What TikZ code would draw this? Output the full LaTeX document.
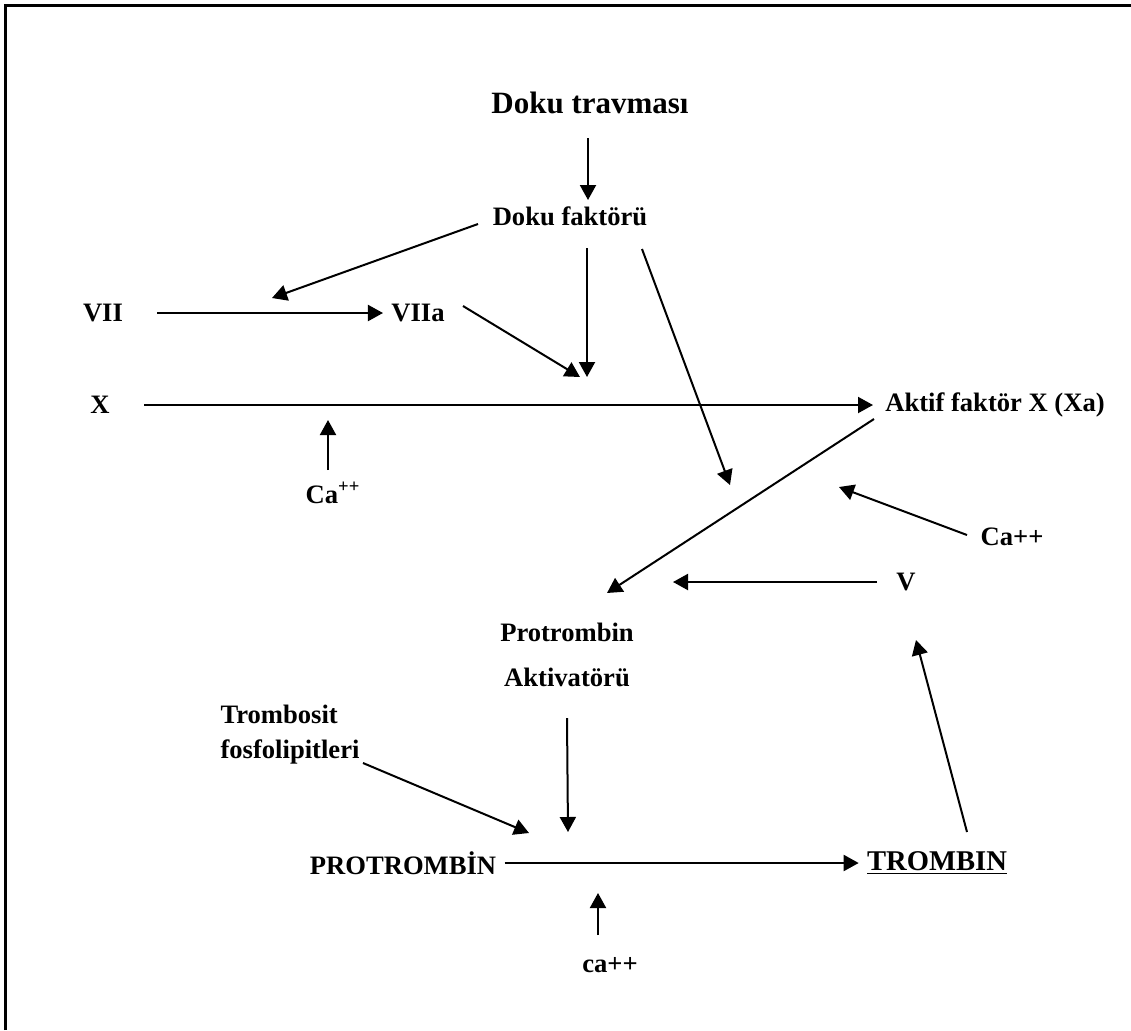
\documentclass[tikz,border=0pt]{standalone}
\usepackage{fontspec}
\setmainfont{Liberation Serif}
\usetikzlibrary{arrows.meta}

\begin{document}
\begin{tikzpicture}[
    x=0.5pt, y=-0.5pt,
    term/.style={font=\bfseries\fontsize{13.3}{16}\selectfont, inner sep=0pt},
    headline/.style={font=\bfseries\fontsize{15.5}{18}\selectfont, inner sep=0pt},
    arrow/.style={line width=1pt, -{Triangle[length=7.5pt, width=8pt]}},
    pageframe/.style={line width=1.5pt}
]
\useasboundingbox (0,0) rectangle (1131,1030);
\draw [pageframe] (5,1030) -- (5,5) -- (1131,5);

% Nodes
\node (travma) [headline] at (590,103) {Doku travması};
\node (faktor) [term] at (570,216) {Doku faktörü};
\node (vii) [term] at (103,313) {VII};
\node (viia) [term] at (418,313) {VIIa};
\node (x) [term] at (100,405) {X};
\node (xa) [term] at (995,405) {Aktif faktör X (Xa)};
\node (ca1) [term] at (333,493) {Ca\textsuperscript{++}};
\node (ca2) [term] at (1012,537) {Ca++};
\node (v) [term] at (906,582) {V};
\node (pa) [term, align=center, font=\bfseries\fontsize{13.3}{22.5}\selectfont] at (567,655) {Protrombin\\Aktivatörü};
\node (tromb) [term, align=left, font=\bfseries\fontsize{13.3}{17.5}\selectfont] at (290,735) {Trombosit\\fosfolipitleri};
\node (protr) [term] at (403,863) {PROTROMBİN};
\node (trombin) [term, font=\bfseries\fontsize{14.3}{17}\selectfont] at (937,863) {\underline{TROMBIN}};
\node (ca3) [term] at (610,965) {ca++};

% Arrow ends
\coordinate (travma-out) at (588,138);
\coordinate (faktor-in) at (588,200);
\coordinate (faktor-w) at (478,224);
\coordinate (faktor-s) at (587,248);
\coordinate (faktor-se) at (642,249);
\coordinate (on-vii) at (272,298);
\coordinate (on-x) at (587,377);
\coordinate (viia-in-x) at (580,377);
\coordinate (xa-in) at (873,405);
\coordinate (viia-out) at (463,306);
\coordinate (ca1-out) at (328,470);
\coordinate (ca1-in) at (328,420);
\coordinate (xa-out) at (874,419);
\coordinate (pa-in) at (607,593);
\coordinate (to-pa) at (730,485);
\coordinate (ca2-out) at (967,535);
\coordinate (ca2-in) at (839,487);
\coordinate (v-out) at (877,582);
\coordinate (v-in) at (673,582);
\coordinate (pa-out) at (567,718);
\coordinate (pa-down) at (568,832);
\coordinate (tromb-out) at (363,763);
\coordinate (tromb-in) at (529,833);
\coordinate (ca3-out) at (598,935);
\coordinate (ca3-in) at (598,893);
\coordinate (trombin-out) at (967,832);
\coordinate (v-below) at (916,640);

% Arrows
\draw [arrow] (travma-out) -- (faktor-in);
\draw [arrow] (faktor-w) -- (on-vii);
\draw [arrow] (faktor-s) -- (on-x);
\draw [arrow] (faktor-se) -- (to-pa);
\draw [arrow, shorten <=17pt, shorten >=4pt] (vii) -- (viia);
\draw [arrow] (viia-out) -- (viia-in-x);
\draw [arrow, shorten <=17pt] (x.east) -- (xa-in);
\draw [arrow] (ca1-out) -- (ca1-in);
\draw [arrow] (xa-out) -- (pa-in);
\draw [arrow] (ca2-out) -- (ca2-in);
\draw [arrow] (v-out) -- (v-in);
\draw [arrow] (pa-out) -- (pa-down);
\draw [arrow] (tromb-out) -- (tromb-in);
\draw [arrow, shorten <=4pt, shorten >=4pt] (protr.east) -- (protr.east -| trombin.west);
\draw [arrow] (ca3-out) -- (ca3-in);
\draw [arrow] (trombin-out) -- (v-below);

\end{tikzpicture}
\end{document}
